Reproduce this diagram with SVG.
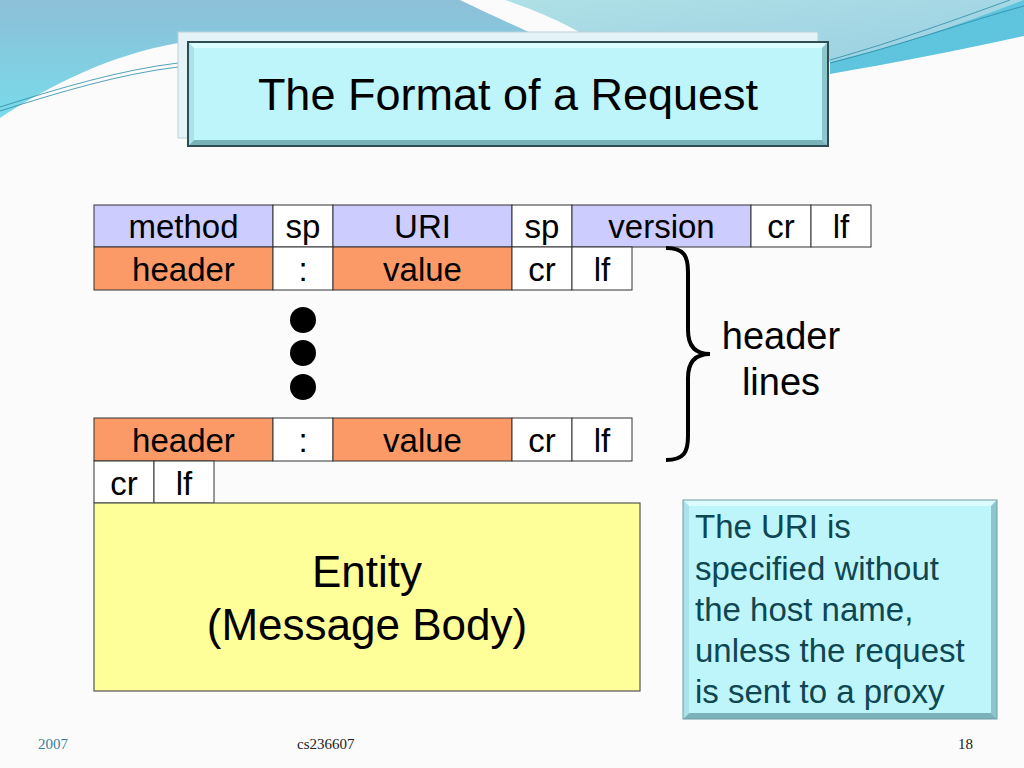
<svg xmlns="http://www.w3.org/2000/svg" width="1024" height="768" viewBox="0 0 1024 768">
<defs>
<linearGradient id="skyL" x1="0" y1="0" x2="0" y2="1">
<stop offset="0" stop-color="#8dbfd8"/>
<stop offset="1" stop-color="#78dbe9"/>
</linearGradient>
<linearGradient id="skyR" x1="0" y1="0" x2="1" y2="1">
<stop offset="0" stop-color="#aee0e6"/>
<stop offset="1" stop-color="#9bcfe2"/>
</linearGradient>
<style>
.cell{stroke:#333;stroke-width:1}
.lav{fill:#ccccff}
.org{fill:#fb9a66}
.wht{fill:#ffffff}
.t{font-family:"Liberation Sans",Arial,sans-serif;font-size:33px;fill:#000;text-anchor:middle}
.foot{font-family:"Liberation Serif","Times New Roman",serif;font-size:15px}
</style>
</defs>
<rect x="0" y="0" width="1024" height="768" fill="#fbfbfb"/>
<g id="background">
<path d="M0,0 L460,0 C490,15 515,25 545,40 L178,43 C110,55 50,85 0,118 Z" fill="url(#skyL)"/>
<path d="M505,0 L1024,0 L1024,3 C960,25 890,48 830,62 L600,45 C570,25 540,12 505,0 Z" fill="url(#skyR)"/>
<path d="M830,62 C900,45 960,25 1024,0 L1024,36 C960,50 900,62 830,74 Z" fill="#5fc4dd"/>
<path d="M0,107 C60,88 120,70 178,63" fill="none" stroke="#2a8aa6" stroke-width="0.8"/>
<path d="M0,111 C60,92 120,74 178,67" fill="none" stroke="#2a8aa6" stroke-width="0.8"/>
<path d="M830,60 C900,40 960,18 1010,0" fill="none" stroke="#2a8aa6" stroke-width="0.8"/>
<path d="M830,63 C905,44 965,22 1024,6" fill="none" stroke="#2a8aa6" stroke-width="0.8"/>
</g>
<g id="title">
<rect x="178" y="32" width="640" height="106" fill="#e4f3f7" stroke="#b9d2da" stroke-width="1"/>
<rect x="188" y="42" width="640" height="104" fill="#bdf5fa"/>
<polygon points="188,42 828,42 822,48 194,48" fill="#dcfdff"/>
<polygon points="828,42 828,146 822,140 822,48" fill="#8cc6cd"/>
<polygon points="188,146 828,146 822,140 194,140" fill="#79b2b9"/>
<polygon points="188,42 194,48 194,140 188,146" fill="#a9e2e8"/>
<rect x="188" y="42" width="640" height="104" fill="none" stroke="#2e4c52" stroke-width="2"/>
<text x="508" y="110" font-family="'Liberation Sans',Arial,sans-serif" font-size="45" text-anchor="middle" fill="#000">The Format of a Request</text>
</g>
<g id="request-line">
<rect class="cell lav" x="94" y="205" width="179" height="42"/><text class="t" x="183.5" y="238">method</text>
<rect class="cell wht" x="273" y="205" width="60" height="42"/><text class="t" x="303" y="238">sp</text>
<rect class="cell lav" x="333" y="205" width="179" height="42"/><text class="t" x="422.5" y="238">URI</text>
<rect class="cell wht" x="512" y="205" width="60" height="42"/><text class="t" x="542" y="238">sp</text>
<rect class="cell lav" x="572" y="205" width="179" height="42"/><text class="t" x="661.5" y="238">version</text>
<rect class="cell wht" x="751" y="205" width="60" height="42"/><text class="t" x="781" y="238">cr</text>
<rect class="cell wht" x="811" y="205" width="60" height="42"/><text class="t" x="841" y="238">lf</text>
</g>
<g id="header-line-1">
<rect class="cell org" x="94" y="247" width="179" height="43"/><text class="t" x="183.5" y="281">header</text>
<rect class="cell wht" x="273" y="247" width="60" height="43"/><text class="t" x="303" y="281">:</text>
<rect class="cell org" x="333" y="247" width="179" height="43"/><text class="t" x="422.5" y="281">value</text>
<rect class="cell wht" x="512" y="247" width="60" height="43"/><text class="t" x="542" y="281">cr</text>
<rect class="cell wht" x="572" y="247" width="60" height="43"/><text class="t" x="602" y="281">lf</text>
</g>
<g id="ellipsis">
<circle cx="303" cy="320" r="13" fill="#000"/>
<circle cx="303" cy="353" r="13" fill="#000"/>
<circle cx="303" cy="387" r="13" fill="#000"/>
</g>
<g id="header-line-n">
<rect class="cell org" x="94" y="418" width="179" height="43"/><text class="t" x="183.5" y="452">header</text>
<rect class="cell wht" x="273" y="418" width="60" height="43"/><text class="t" x="303" y="452">:</text>
<rect class="cell org" x="333" y="418" width="179" height="43"/><text class="t" x="422.5" y="452">value</text>
<rect class="cell wht" x="512" y="418" width="60" height="43"/><text class="t" x="542" y="452">cr</text>
<rect class="cell wht" x="572" y="418" width="60" height="43"/><text class="t" x="602" y="452">lf</text>
</g>
<g id="blank-line">
<rect class="cell wht" x="94" y="461" width="60" height="42"/><text class="t" x="124" y="495">cr</text>
<rect class="cell wht" x="154" y="461" width="60" height="42"/><text class="t" x="184" y="495">lf</text>
</g>
<g id="entity">
<rect x="94" y="503" width="546" height="188" fill="#ffff99" stroke="#555" stroke-width="1.2"/>
<text x="367" y="587" font-family="'Liberation Sans',Arial,sans-serif" font-size="44" text-anchor="middle">Entity</text>
<text x="367" y="640" font-family="'Liberation Sans',Arial,sans-serif" font-size="44" text-anchor="middle">(Message Body)</text>
</g>
<g id="connectors">
<path d="M666,248 C684,248 688,256 688,272 L688,330 C688,346 695,354 710,354 C695,354 688,362 688,378 L688,436 C688,452 684,460 666,460" fill="none" stroke="#000" stroke-width="4"/>
</g>
<g id="header-lines-label">
<text x="781" y="349" font-family="'Liberation Sans',Arial,sans-serif" font-size="38" text-anchor="middle">header</text>
<text x="781" y="395" font-family="'Liberation Sans',Arial,sans-serif" font-size="38" text-anchor="middle">lines</text>
</g>
<g id="note">
<rect x="683" y="500" width="314" height="219" fill="#bdf5fa"/>
<polygon points="683,500 997,500 991,506 689,506" fill="#dcfdff"/>
<polygon points="997,500 997,719 991,713 991,506" fill="#8cc6cd"/>
<polygon points="683,719 997,719 991,713 689,713" fill="#79b2b9"/>
<polygon points="683,500 689,506 689,713 683,719" fill="#a9e2e8"/>
<rect x="683" y="500" width="314" height="219" fill="none" stroke="#6f9ea4" stroke-width="1"/>
<g font-family="'Liberation Sans',Arial,sans-serif" font-size="33" fill="#0e4651">
<text x="695" y="538">The URI is</text>
<text x="695" y="580">specified without</text>
<text x="695" y="621">the host name,</text>
<text x="695" y="662">unless the request</text>
<text x="695" y="703">is sent to a proxy</text>
</g>
</g>
<g id="footer">
<text class="foot" x="38" y="749" fill="#3a7d9a">2007</text>
<text class="foot" x="297" y="749" fill="#222">cs236607</text>
<text class="foot" x="958" y="749" fill="#222">18</text>
</g>
</svg>
